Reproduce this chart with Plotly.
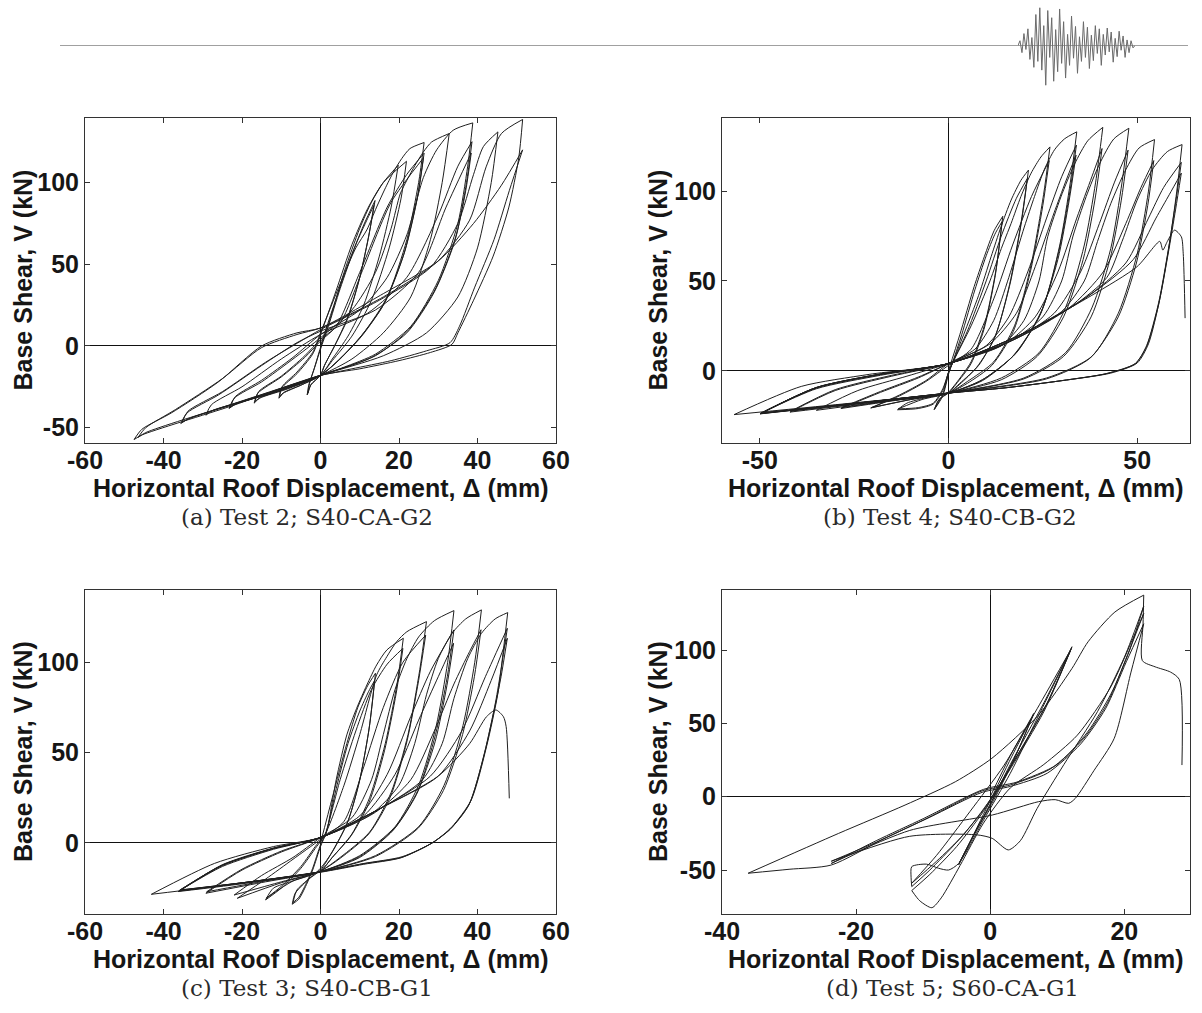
import plotly.graph_objects as go

W, H = 1202, 1013

# ---------------------------------------------------------------------------
# Hysteresis branches, one list of (displacement mm, base shear kN) per branch.
# Branches alternate: reload towards a positive peak, then unload towards the
# next negative peak.
# ---------------------------------------------------------------------------

# (a) Test 2; S40-CA-G2
test2_branches = [
    [(0, 0), (3, 22), (7, 50), (11, 74), (13.9, 89)],
    [(13.9, 89), (12.5, 70), (10, 42), (7, 18), (4, 2), (1, -12), (0, -18), (-2.5, -24), (-3.4, -30)],
    [(-3.4, -30), (-3, -24), (-1.6, -14), (0, -2), (2, 12), (5, 35), (9, 62), (12, 78), (13.6, 86)],
    [(13.6, 86), (12.2, 66), (9.8, 40), (6.8, 16), (3.8, 1), (1, -12), (0, -18), (-2.4, -23.5), (-3.2, -29)],
    [(-3.2, -29), (-2.8, -23), (-1.5, -13), (0, -1), (2, 13), (6, 45), (10, 72), (13, 88), (16, 100), (19.8, 110.6)],
    [(19.8, 110.6), (18, 85), (15, 55), (11, 25), (7, 6), (3, -8), (0, -18), (-5, -24), (-9.5, -29), (-10.6, -32)],
    [(-10.6, -32), (-10, -26), (-6, -17), (-2, -5), (0, 7), (4, 34), (8, 62), (12, 84), (16, 100), (21.9, 113)],
    [(21.9, 113), (20.5, 90), (17.5, 60), (13, 28), (8, 6), (3, -9), (0, -18), (-5, -24), (-9.4, -28.5), (-10.4, -31)],
    [(-10.4, -31), (-9.8, -25), (-6, -16), (-2, -4), (0, 8), (5, 38), (9, 60), (11.8, 71), (14.3, 85), (16.4, 96), (18.6, 106.5), (20.7, 114.7), (22.8, 120.8), (26.4, 124.5)],
    [(26.4, 124.5), (25, 100), (22, 65), (17, 30), (11, 8), (5, -8), (0, -18), (-8, -26), (-15.5, -32), (-16.9, -35)],
    [(-16.9, -35), (-16, -29), (-10, -19), (-4, -7), (0, 3), (4, 12), (10, 45), (17, 85), (22, 105), (26.4, 118)],
    [(26.4, 118), (24.8, 92), (21.5, 58), (16.5, 27), (10.5, 6), (4.5, -9), (0, -18), (-8, -25.5), (-15.3, -31.5), (-16.7, -34)],
    [(-16.7, -34), (-15.8, -28), (-10, -18.5), (-4, -6), (0, 4), (5, 14), (11, 48), (18, 88), (26.2, 115)],
    [(26.2, 115), (24.6, 90), (21.2, 56), (16, 25), (10, 5), (4, -10), (0, -18), (-11, -28), (-21.5, -35.5), (-23.3, -38.3)],
    [(-23.3, -38.3), (-22, -32), (-15, -22), (-7, -8), (0, 5), (8, 22), (14, 45), (18, 72), (20.3, 93), (22, 101.4), (24.1, 110.6), (26.2, 118.7), (28.3, 124.8), (32.8, 130)],
    [(32.8, 130), (31, 100), (28, 65), (23, 30), (16, 8), (8, -8), (0, -18), (-11, -27.5), (-21.3, -35), (-23, -37.5)],
    [(-23, -37.5), (-21.7, -31), (-15, -21), (-7, -7), (0, 7), (10, 22), (17, 42), (22, 68), (26.2, 103), (29.6, 120), (33.8, 132), (38.8, 136.5)],
    [(38.8, 136.5), (37.5, 110), (35, 75), (30, 40), (23, 12), (14, -5), (6, -13), (0, -18), (-14, -30), (-27.5, -39.5), (-29.2, -42.4)],
    [(-29.2, -42.4), (-27.8, -36), (-20, -25), (-10, -8), (0, 7), (12, 20), (22, 42), (30, 80), (35, 110), (38.6, 125)],
    [(38.6, 125), (37.2, 100), (34.6, 68), (29.5, 36), (22.5, 10), (14, -6), (0, -18), (-17, -32), (-33.5, -44.5), (-35.6, -47.5)],
    [(-35.6, -47.5), (-34, -41), (-26, -30), (-15, -12), (-6, 2), (0, 9), (14, 22), (25, 45), (32, 85), (38.4, 118)],
    [(38.4, 118), (37, 95), (34.2, 64), (29, 33), (22, 8), (13, -7), (0, -18), (-17, -31.5), (-33, -44), (-35.2, -46.5)],
    [(-35.2, -46.5), (-33.8, -40), (-25, -28), (-14, -10), (-5, 3), (0, 10), (15, 28), (28, 48), (35, 75), (39, 105), (41.5, 122), (45.2, 131)],
    [(45.2, 131), (43.5, 100), (40, 60), (35, 30), (27, 8), (16, -6), (0, -18), (-23, -36), (-44.5, -53), (-46.5, -56)],
    [(-46.5, -56), (-44.5, -50), (-37, -39), (-25, -20), (-15, -1), (-6, 7), (0, 11), (16, 30), (30, 52), (38, 77), (42.2, 109.6), (46.1, 130), (51.5, 138.6)],
    [(51.5, 138.6), (50.5, 115), (48, 85), (44, 55), (39, 28), (35, 8), (33.5, 1), (28, -4), (20, -9), (10, -14), (0, -18), (-23, -37), (-45.5, -54.5), (-47.5, -57.3)],
    [(-47.5, -57.3), (-45.5, -51), (-38, -41), (-26, -22), (-15, 0), (-6, 8), (0, 11), (16, 32), (30, 52), (39, 75), (46, 98), (51.5, 120)],
    [(51.5, 120), (48.1, 95), (44.2, 65), (39.3, 36), (35.4, 12), (33, 2), (27, -3), (18, -9), (8, -14), (0, -18)],
]

# (b) Test 4; S40-CB-G2
test4_branches = [
    [(0, 0), (3, 20), (6.8, 46.8), (9.5, 63.5), (12.1, 78), (14.4, 86)],
    [(14.4, 86), (12.5, 55), (9.5, 25), (6, 5), (2, -7), (0, -12), (-2.5, -16), (-3.8, -21.7)],
    [(-3.8, -21.7), (-1.5, -14), (0, -2), (1, 4), (3.5, 20), (7, 45), (10, 64), (12.3, 76), (14.2, 83)],
    [(14.2, 83), (12.4, 53), (9.4, 23), (6, 4), (2, -7.5), (0, -12.4), (-2.5, -16), (-3.6, -21)],
    [(-3.6, -21), (-1.5, -13), (0, -1), (1, 4), (4, 20), (8, 42), (11.3, 63.5), (13.9, 80), (16.6, 95), (19.2, 106), (21.2, 111.7)],
    [(21.2, 111.7), (19.5, 85), (16.5, 50), (12.5, 20), (8, 3), (3, -7), (0, -12.4), (-6, -15), (-11, -18), (-13.5, -21.7)],
    [(-13.5, -21.7), (-8, -21), (-4, -18.5), (-1.5, -11), (0, -1), (1, 4), (5, 22), (10, 50), (14, 75), (18, 96), (20.9, 107)],
    [(20.9, 107), (19.2, 82), (16.2, 48), (12.2, 18), (7.5, 2), (3, -7.5), (0, -12.4), (-7, -16), (-13.3, -21.2)],
    [(-13.3, -21.2), (-8, -20.5), (-4, -18), (-1.5, -10), (0, -1), (1, 4), (6, 25), (11, 50), (14, 68), (16.6, 82), (19.2, 97), (21.9, 110), (24.5, 119), (26.9, 124.6)],
    [(26.9, 124.6), (25.2, 98), (22, 60), (17.5, 25), (12, 5), (5, -6), (0, -12.4), (-10, -16), (-20.6, -20.7)],
    [(-20.6, -20.7), (-13, -14), (-6, -6), (0, 3), (6, 12), (12, 40), (17, 70), (22, 97), (26.7, 117)],
    [(26.7, 117), (25, 92), (21.8, 56), (17.2, 22), (11.5, 3), (5, -7), (0, -12.4), (-10, -16), (-20.4, -20.5)],
    [(-20.4, -20.5), (-13, -13.5), (-6, -5.5), (0, 4), (7, 12), (12, 28), (16, 52), (20.1, 80), (22.8, 97), (25.4, 112), (28.1, 123), (30.7, 129), (34, 133)],
    [(34, 133), (32.3, 105), (29.5, 70), (25, 35), (18, 10), (9, -5), (0, -12.4), (-14, -16.5), (-28.5, -21)],
    [(-28.5, -21), (-18, -12), (-8, -4), (0, 4), (10, 14), (16, 30), (21, 55), (26, 85), (30, 108), (33.9, 125.6)],
    [(33.9, 125.6), (32.2, 100), (29.2, 66), (24.5, 32), (17.5, 9), (9, -5), (0, -12.4), (-14, -16.3), (-28.3, -20.5)],
    [(-28.3, -20.5), (-18, -11.5), (-8, -3.5), (0, 4), (11, 15), (18, 32), (23, 58), (28, 88), (31, 105), (33.8, 120)],
    [(33.8, 120), (32, 95), (29, 62), (24, 30), (17, 8), (9, -5.5), (0, -12.4), (-17, -17), (-35, -22)],
    [(-35, -22), (-24, -11), (-11, -3), (0, 4), (14, 14), (20, 28), (24, 50), (26.3, 74.6), (29.8, 96.8), (33.4, 115), (36.9, 128), (40.9, 135.5)],
    [(40.9, 135.5), (39, 105), (36, 70), (31, 35), (24, 10), (14, -4), (0, -12.4), (-20, -17.5), (-42, -23)],
    [(-42, -23), (-30, -11), (-15, -3), (0, 4), (15, 15), (23, 30), (29, 55), (34, 85), (38, 108), (40.7, 123.7)],
    [(40.7, 123.7), (38.8, 95), (35.7, 62), (30.5, 30), (23.5, 8), (14, -5), (0, -12.4), (-20, -17.3), (-41.8, -22.5)],
    [(-41.8, -22.5), (-30, -10.5), (-15, -2.5), (0, 4), (16, 16), (25, 30), (30, 50), (33, 75), (36.5, 97), (40, 115), (43.8, 129), (47.8, 135)],
    [(47.8, 135), (46, 105), (43, 68), (38, 35), (31, 10), (20, -4), (0, -12.4), (-24, -18), (-49.9, -23.9)],
    [(-49.9, -23.9), (-35, -10), (-18, -2.5), (0, 4), (17, 17), (28, 32), (35, 55), (40, 82), (44, 105), (47.6, 122.8)],
    [(47.6, 122.8), (45.8, 95), (42.8, 62), (37.8, 30), (30.5, 8), (20, -4.5), (0, -12.4), (-24, -17.8), (-49.7, -23.6)],
    [(-49.7, -23.6), (-35, -9.5), (-18, -2), (0, 4), (18, 18), (30, 33), (36, 50), (39.5, 72), (43, 93), (47, 112), (50.5, 124), (54.6, 128.7)],
    [(54.6, 128.7), (53, 100), (50, 65), (45, 32), (38, 8), (26, -4), (0, -12.4), (-24, -18), (-49.9, -24)],
    [(-49.9, -24), (-35, -9.5), (-18, -2), (0, 4), (18, 18), (32, 35), (41, 55), (47, 82), (51, 102), (54.4, 117)],
    [(54.4, 117), (52.8, 92), (49.8, 60), (45, 30), (37.5, 7), (26, -4.5), (0, -12.4), (-28, -18.5), (-56.8, -24.4)],
    [(-56.8, -24.4), (-39, -8.7), (-21, -2), (0, 4), (19, 20), (33, 36), (42, 52), (46, 72), (50, 95), (54, 112), (58, 122), (61.9, 125.9)],
    [(61.9, 125.9), (60.5, 100), (58.5, 70), (56, 40), (53, 15), (50, 4.3), (43, -1.3), (30, -5.5), (15, -9.5), (0, -12.4), (-24, -18), (-49.9, -23.8)],
    [(-49.9, -23.8), (-35, -9.3), (-18, -1.8), (0, 4), (19, 20), (36, 40), (47, 60), (53, 85), (57, 102), (61.7, 116)],
    [(61.7, 116), (60.3, 95), (58.3, 68), (55.7, 38), (52.5, 14), (49.5, 4), (42, -1.5), (30, -5.5), (15, -9.5), (0, -12.4), (-24, -18), (-49.6, -23.5)],
    [(-49.6, -23.5), (-35, -9.3), (-18, -1.8), (0, 4), (19, 20), (38, 43), (49, 62), (55, 85), (58.5, 98), (61.7, 110)],
    [(61.7, 110), (60.2, 90), (58.2, 65), (55.6, 36), (52.4, 13), (49.5, 4), (42, -1.5), (30, -5.5), (15, -9.5), (0, -12.4), (-24, -18), (-49.5, -23.5)],
    [(-49.5, -23.5), (-35, -9.3), (-18, -1.8), (0, 4), (19, 20), (38, 42), (50, 58), (56, 72), (56.8, 67.2), (58, 72), (59.9, 78.3), (61.7, 74.6), (62.2, 65.4), (62.7, 29.3)],
]

# (c) Test 3; S40-CB-G1
test3_branches = [
    [(0, 0), (3, 25), (6.7, 55), (9.5, 75), (12, 87), (14, 93.9)],
    [(14, 93.9), (12.5, 65), (10, 35), (7, 12), (3, -5), (0, -14), (-4, -22), (-6.5, -28), (-7.2, -33.9)],
    [(-7.2, -33.9), (-5.5, -31), (-4, -25), (-2, -15), (0, -2), (1.5, 6), (4, 30), (7, 55), (10, 73), (12.3, 84), (13.8, 90)],
    [(13.8, 90), (12.3, 62), (9.8, 33), (6.8, 11), (2.8, -5.5), (0, -15), (-3, -20), (-6, -26), (-7, -33)],
    [(-7, -33), (-5.5, -30), (-4, -24), (-2, -14), (0, -1), (1.5, 6), (4, 35), (6.7, 59.8), (9.2, 74.5), (11.8, 87.4), (14.3, 98.5), (16.9, 106.8), (21.1, 113.3)],
    [(21.1, 113.3), (19.5, 88), (16.5, 55), (12.5, 25), (8, 5), (3, -8), (0, -15.5), (-7, -21), (-12, -25), (-14, -31.5)],
    [(-14, -31.5), (-10, -25), (-5, -14), (-1, -2), (1, 4), (5, 35), (9, 62), (13, 85), (17, 99), (21, 107.7)],
    [(21, 107.7), (19.3, 83), (16.3, 51), (12.3, 22), (7.8, 4), (3, -8), (0, -15.5), (-7, -21), (-13.8, -30.5)],
    [(-13.8, -30.5), (-10, -24), (-5, -13), (-1, -1), (1, 4), (6, 32), (10, 60), (14.3, 93), (16.9, 103.1), (19.4, 111.4), (22, 116.9), (27, 122.5)],
    [(27, 122.5), (25.3, 96), (22.3, 60), (18, 28), (12.5, 6), (5, -8), (0, -15.5), (-10, -22), (-21.2, -30.6)],
    [(-21.2, -30.6), (-14, -20), (-7, -9), (0, 2), (6, 12), (11, 42), (16, 75), (21, 100), (26.8, 115)],
    [(26.8, 115), (25, 90), (22, 56), (17.7, 25), (12.3, 5), (5, -8.5), (0, -15.5), (-10, -21.5), (-22, -28.8)],
    [(-22, -28.8), (-15, -18), (-7, -8), (0, 3), (8, 14), (13, 35), (16, 60), (19, 85), (22, 102), (25, 114), (29, 123), (34, 128.6)],
    [(34, 128.6), (32.4, 100), (29.5, 65), (25, 32), (19, 9), (10, -7), (0, -15.8), (-14, -21.5), (-29.2, -27.8)],
    [(-29.2, -27.8), (-20, -15), (-10, -5), (0, 3), (10, 15), (17, 38), (23, 70), (28, 95), (34, 117.9)],
    [(34, 117.9), (32.3, 92), (29.3, 60), (24.8, 29), (18.8, 8), (10, -7.5), (0, -15.8), (-14, -21), (-29, -27)],
    [(-29, -27), (-20, -14.5), (-10, -4.5), (0, 3), (11, 15), (19, 38), (25, 68), (30, 92), (33.9, 110.5)],
    [(33.9, 110.5), (32.2, 87), (29.2, 56), (24.5, 27), (18.5, 7), (10, -8), (0, -15.8), (-18, -22), (-36.3, -26.9)],
    [(-36.3, -26.9), (-25, -13), (-12, -3.5), (0, 3), (13, 16), (20, 32), (24, 55), (27, 82), (30, 102), (33.5, 116), (37, 124), (41, 129)],
    [(41, 129), (39.3, 100), (36.3, 65), (31.5, 32), (25, 9), (14, -7), (0, -15.9), (-18, -21.5), (-36, -26.5)],
    [(-36, -26.5), (-25, -12.5), (-12, -3), (0, 3), (14, 17), (23, 35), (29, 62), (34, 88), (38, 106), (40.9, 118)],
    [(40.9, 118), (39.2, 92), (36.2, 60), (31.3, 29), (24.8, 8), (14, -7.5), (0, -15.9), (-21, -22.5), (-43.1, -28.4)],
    [(-43.1, -28.4), (-27, -11.3), (-12, -2), (0, 3), (16, 20), (26, 35), (31, 55), (34, 80), (37.5, 102), (41, 116), (44.5, 124), (47.7, 127.5)],
    [(47.7, 127.5), (46.5, 105), (45.2, 82.8), (42.3, 53.3), (38.4, 23.8), (33.5, 9), (28.6, 0.2), (20.8, -7.6), (11.1, -11.3), (0, -15.9), (-18, -21.5), (-36, -26.3)],
    [(-36, -26.3), (-25, -12.3), (-12, -3), (0, 3), (16, 20), (28, 37), (36, 62), (42, 92), (47.6, 118.8)],
    [(47.6, 118.8), (46, 96), (44.6, 78), (41.8, 50), (38, 22), (33.2, 8), (28.4, 0), (20.6, -8), (11, -11.5), (0, -16), (-18, -21.5), (-35.8, -26)],
    [(-35.8, -26), (-25, -12.2), (-12, -3), (0, 3), (16, 20), (30, 37), (38, 62), (43.5, 90), (47.6, 113.3)],
    [(47.6, 113.3), (46, 92), (44.4, 75), (41.6, 48), (37.8, 21), (33, 7.5), (28.2, -0.3), (20.5, -8.2), (11, -11.8), (0, -16.2), (-18, -21.5), (-35.5, -26)],
    [(-35.5, -26), (-25, -12), (-12, -2.8), (0, 3), (16, 20), (30, 37), (38, 55), (42.3, 69.9), (44.7, 73.6), (46.6, 69.9), (47.3, 64.4), (48.1, 24.7)],
]

# (d) Test 5; S60-CA-G1
test5_branches = [
    [(0, 0), (3, 28), (6.5, 56.8)],
    [(6.5, 56.8), (4, 30), (1, 3), (-2, -22), (-4.7, -46.5)],
    [(-4.7, -46.5), (-2.5, -26), (0.5, 2), (3.5, 30), (6.4, 55.5)],
    [(6.4, 55.5), (3.8, 28), (0.8, 0), (-2.2, -24), (-4.6, -45)],
    [(-4.6, -45), (-1, -14), (3, 22), (8, 64), (12.2, 102.3)],
    [(12.2, 102.3), (8.5, 64), (4, 28), (0, -2), (-4, -26), (-8, -44), (-11.7, -59)],
    [(-11.7, -59), (-8, -40), (-3, -10), (2, 21), (7, 60), (12.1, 101)],
    [(12.1, 101), (8.3, 62), (3, 20), (-1, -9), (-5, -31), (-9, -50), (-11.7, -61.3)],
    [(-11.7, -61.3), (-11.8, -55), (-11.7, -47.7), (-9.5, -46), (-7.7, -48.8), (-6.2, -50), (-4.7, -45.5), (-1, -16), (3, 16), (7.5, 58), (12, 100)],
    [(12, 100), (8, 58), (3, 19), (-1, -10), (-5, -34), (-9, -53), (-11.7, -64)],
    [(-11.7, -64), (-10.5, -71), (-8.7, -75.7), (-7.3, -69), (-4.5, -47), (-1, -18), (3, 6), (8, 22), (13, 42), (18, 75), (21, 105), (22.9, 125)],
    [(22.9, 125), (20.5, 97), (17.5, 64), (14, 40), (9, 19), (3, 8), (-1.2, 4), (-10, -16), (-17, -31), (-23.7, -44)],
    [(-23.7, -44), (-12, -27), (-2, -26), (0.3, -28.4), (2.7, -36.3), (4.5, -30), (7, -8), (11, 22), (16, 58), (20, 95), (22.9, 130)],
    [(22.9, 130), (20.8, 100), (18, 70), (14.5, 44), (10, 22), (4, 10), (-1, 5), (-10, -15), (-17, -30), (-23.7, -45.5)],
    [(-23.7, -45.5), (-12, -23), (0.3, -12.5), (7.2, -3.4), (9.7, -2), (11.7, -4.5), (12.7, -1.1), (15.5, 18), (18.5, 39.8), (21, 85), (22.9, 118)],
    [(22.9, 118), (20.3, 92), (17.2, 60), (13.5, 36), (8.5, 16), (3, 7), (-1.2, 3), (-9, -14), (-16, -29), (-23.7, -46.6), (-30, -49.5), (-36.1, -52.2)],
    [(-36.1, -52.2), (-22.6, -25), (-12.7, -5.7), (-5.2, 10.2), (0.25, 26.2), (7.2, 55.7), (12.2, 87.5), (14.6, 105.7), (18.6, 126), (22.9, 137.5)],
    [(22.9, 137.5), (22.8, 118), (22.7, 92.8), (24.6, 88.6), (26.9, 85), (28.2, 80), (28.6, 21.6)],
]

# Axis ticks
ticks_x_60 = [-60, -40, -20, 0, 20, 40, 60]
ticks_x_50 = [-50, 0, 50]
ticks_x_40 = [-40, -20, 0, 20]
ticks_y_full = [-50, 0, 50, 100]
ticks_y_pos = [0, 50, 100]

captions = ["(a) Test 2; S40-CA-G2", "(b) Test 4; S40-CB-G2",
            "(c) Test 3; S40-CB-G1", "(d) Test 5; S60-CA-G1"]
x_title = "Horizontal Roof Displacement, \u0394 (mm)"
y_title = "Base Shear, V (kN)"

# Decorative seismogram in the page header (relative amplitudes)
header_trace = [0.0, 0.12, -0.18, 0.3, -0.1, 0.42, -0.35, 0.2, -0.55, 0.78, -0.4, 0.95,
                -0.62, 0.5, -1.0, 0.88, -0.3, 0.7, -0.9, 0.4, -0.66, 0.92, -0.45, 0.6,
                -0.82, 0.28, -0.5, 0.74, -0.32, 0.48, -0.7, 0.22, -0.4, 0.6, -0.3, 0.46,
                -0.58, 0.26, -0.38, 0.5, -0.2, 0.42, -0.5, 0.28, -0.24, 0.44, -0.16, 0.34,
                -0.42, 0.18, -0.28, 0.36, -0.12, 0.24, -0.3, 0.14, -0.18, 0.12, -0.06, 0.0]


def flatten(branches):
    xs, ys = [], []
    for br in branches:
        for x, y in br:
            xs.append(x)
            ys.append(y)
        xs.append(None)
        ys.append(None)
    return xs, ys


def hpos(px):
    return px / W


def vpos(py):
    return 1 - py / H


# frame boxes in page pixels: left, top, right, bottom
panels = [
    dict(data=test2_branches, box=(85, 118, 556, 443), xr=[-60, 60], yr=[-59.4, 139.5],
         xt=ticks_x_60, yt=ticks_y_full, ytitle_x=23, cap_dx=-14),
    dict(data=test4_branches, box=(722, 118, 1190, 443), xr=[-60, 64], yr=[-40.2, 140.7],
         xt=ticks_x_50, yt=ticks_y_pos, ytitle_x=658, cap_dx=-6),
    dict(data=test3_branches, box=(85, 590, 556, 914), xr=[-60, 60], yr=[-39.3, 140],
         xt=ticks_x_60, yt=ticks_y_pos, ytitle_x=23, cap_dx=-14),
    dict(data=test5_branches, box=(722, 590, 1190, 914), xr=[-40, 29.8], yr=[-80, 141],
         xt=ticks_x_40, yt=ticks_y_full, ytitle_x=658, cap_dx=-4),
]

FONT_SANS = "Liberation Sans, Arial, Helvetica, sans-serif"
FONT_SERIF = "DejaVu Serif, Liberation Serif, serif"
INK = "#161616"

fig = go.Figure()
layout = dict(template="none", width=W, height=H,
              margin=dict(l=0, r=0, t=0, b=0, pad=0, autoexpand=False),
              paper_bgcolor="white", plot_bgcolor="white", showlegend=False)
annotations = []

for i, p in enumerate(panels, start=1):
    sfx = "" if i == 1 else str(i)
    xs, ys = flatten(p["data"])
    fig.add_trace(go.Scatter(
        x=xs, y=ys, mode="lines", xaxis="x" + sfx, yaxis="y" + sfx,
        line=dict(color="#1f1f1f", width=1, shape="spline", smoothing=0.7),
        connectgaps=False, hoverinfo="skip"))

    l, t, r, b = p["box"]
    common = dict(showline=True, linecolor="#333333", linewidth=1, mirror="ticks",
                  ticks="inside", ticklen=5, tickwidth=1, tickcolor="#333333",
                  showgrid=False, zeroline=True, zerolinecolor="#111111", zerolinewidth=1,
                  tickfont=dict(family=FONT_SANS, size=25, color=INK, weight="bold"),
                  tickmode="array", fixedrange=True, automargin=False)
    layout["xaxis" + sfx] = dict(common, domain=[hpos(l), hpos(r)], range=p["xr"],
                                 tickvals=p["xt"], ticktext=[str(v) for v in p["xt"]],
                                 ticklabelstandoff=-5, anchor="y" + sfx)
    layout["yaxis" + sfx] = dict(common, domain=[vpos(b), vpos(t)], range=p["yr"],
                                 tickvals=p["yt"], ticktext=[str(v) for v in p["yt"]],
                                 anchor="x" + sfx)

    cx = (l + r) / 2
    annotations.append(dict(text="<b>" + x_title + "</b>", x=hpos(cx), y=vpos(b + 45),
                            xref="paper", yref="paper", xanchor="center", yanchor="middle",
                            showarrow=False, font=dict(family=FONT_SANS, size=25, color=INK)))
    annotations.append(dict(text="<b>" + y_title + "</b>", x=hpos(p["ytitle_x"]),
                            y=vpos((t + b) / 2), xref="paper", yref="paper",
                            xanchor="center", yanchor="middle", textangle=-90,
                            showarrow=False, font=dict(family=FONT_SANS, size=25, color=INK)))
    annotations.append(dict(text=captions[i - 1], x=hpos(cx + p["cap_dx"]), y=vpos(b + 74),
                            xref="paper", yref="paper", xanchor="center", yanchor="middle",
                            showarrow=False, font=dict(family=FONT_SERIF, size=23, color="#2a2a2a")))

# header rule and seismogram
fig.add_trace(go.Scatter(
    x=list(range(len(header_trace))), y=header_trace, mode="lines",
    xaxis="x5", yaxis="y5", line=dict(color="#6a6a6a", width=1), hoverinfo="skip"))
layout["xaxis5"] = dict(domain=[hpos(1018), hpos(1135)], range=[0, len(header_trace) - 1],
                        visible=False, anchor="y5", fixedrange=True, automargin=False)
layout["yaxis5"] = dict(domain=[vpos(86), vpos(5)], range=[-1.02, 1.02],
                        visible=False, anchor="x5", fixedrange=True, automargin=False)
layout["shapes"] = [dict(type="line", xref="paper", yref="paper",
                         x0=hpos(60), x1=hpos(1188), y0=vpos(45.5), y1=vpos(45.5),
                         line=dict(color="#a0a0a0", width=1), layer="below")]
layout["annotations"] = annotations

fig.update_layout(**layout)
fig.write_html("out.html")
